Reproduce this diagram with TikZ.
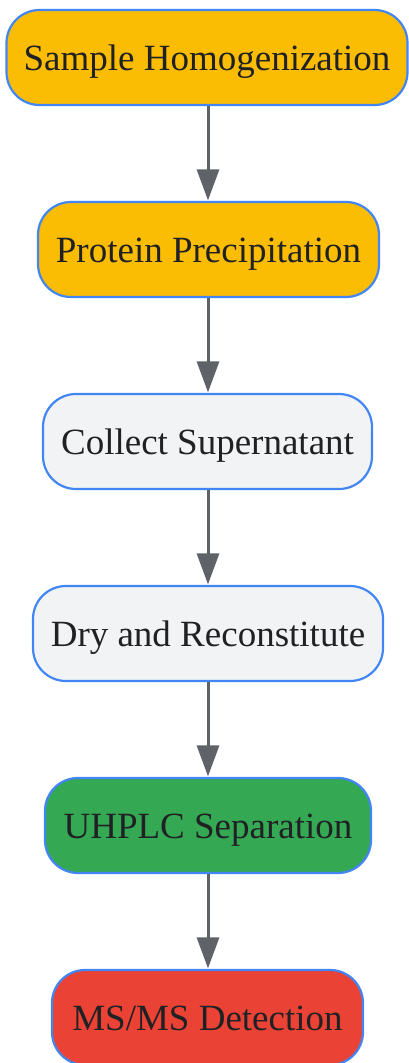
\documentclass[tikz,border=0pt]{standalone}
\usepackage{fontspec}
\setmainfont{Liberation Serif}
\usetikzlibrary{arrows.meta}
\definecolor{ylw}{HTML}{FBBC04}
\definecolor{gry}{HTML}{F1F3F4}
\definecolor{grn}{HTML}{34A853}
\definecolor{rd}{HTML}{EA4335}
\definecolor{bdr}{HTML}{4285F4}
\definecolor{txt}{HTML}{202124}
\definecolor{arr}{HTML}{5F6368}
\tikzset{
  stepbox/.style={draw=bdr, line width=2.2pt, rounded corners=33pt, minimum height=95pt,
    inner sep=0pt, text=txt, text height=30pt, text depth=5pt, font=\fontsize{37}{40}\selectfont},
  flow/.style={draw=arr, line width=3pt, -{Triangle[width=22pt,length=31pt]}, shorten >=0.5pt}
}
\begin{document}
\begin{tikzpicture}[x=1pt,y=-1pt]
\useasboundingbox (0,0) rectangle (408,1063);
\node[stepbox, fill=ylw, minimum width=401pt] (a) at (207,57.5) {Sample Homogenization};
\node[stepbox, fill=ylw, minimum width=341pt] (b) at (208.5,249.5) {Protein Precipitation};
\node[stepbox, fill=gry, minimum width=329pt] (c) at (207.5,441.5) {Collect Supernatant};
\node[stepbox, fill=gry, minimum width=350pt] (d) at (208,633.5) {Dry and Reconstitute};
\node[stepbox, fill=grn, minimum width=326pt] (e) at (208,825.5) {UHPLC Separation};
\node[stepbox, fill=rd, minimum width=311pt] (f) at (207.5,1017.5) {MS/MS Detection};
\draw[flow] (a.south -| 208,0) -- (b.north -| 208,0);
\draw[flow] (b.south -| 208,0) -- (c.north -| 208,0);
\draw[flow] (c.south -| 208,0) -- (d.north -| 208,0);
\draw[flow] (d.south -| 208,0) -- (e.north -| 208,0);
\draw[flow] (e.south -| 208,0) -- (f.north -| 208,0);
\end{tikzpicture}
\end{document}
